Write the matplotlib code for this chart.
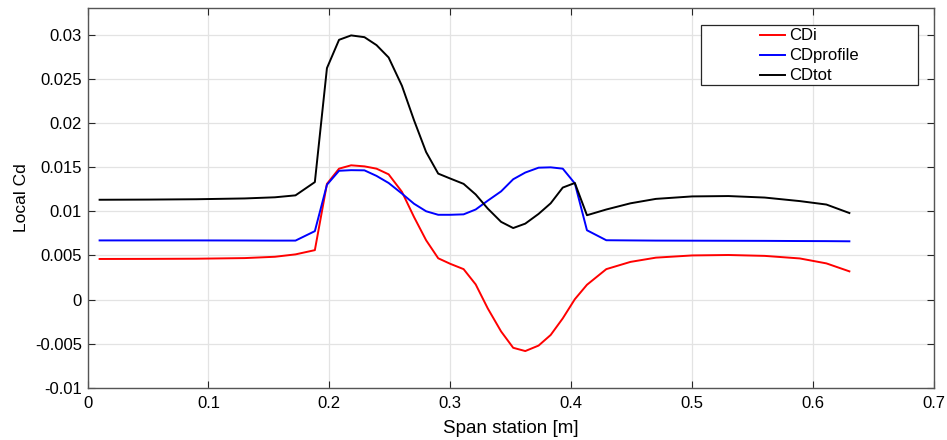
import numpy as np
import matplotlib
matplotlib.use('Agg')
import matplotlib.pyplot as plt
from matplotlib.patches import Rectangle

plt.rcParams['font.family'] = ['Liberation Sans', 'DejaVu Sans']

# spanwise stations [m]
span = [0.010, 0.050, 0.090, 0.130, 0.155, 0.172, 0.188, 0.198, 0.208, 0.218,
        0.229, 0.239, 0.249, 0.260, 0.270, 0.280, 0.290, 0.300, 0.311, 0.321,
        0.331, 0.342, 0.352, 0.362, 0.373, 0.383, 0.393, 0.403, 0.413, 0.429,
        0.449, 0.470, 0.500, 0.530, 0.560, 0.589, 0.611, 0.630]

cd_i = [0.00460, 0.00461, 0.00463, 0.00470, 0.00485, 0.00512, 0.00560, 0.01310,
        0.01482, 0.01520, 0.01508, 0.01482, 0.01418, 0.01220, 0.00935, 0.00672,
        0.00468, 0.00405, 0.00345, 0.00172, -0.00100, -0.00360, -0.00545,
        -0.00582, -0.00520, -0.00400, -0.00212, 0.00005, 0.00168, 0.00345,
        0.00427, 0.00475, 0.00500, 0.00505, 0.00495, 0.00466, 0.00410, 0.00320]

cd_profile = [0.00670, 0.00670, 0.00670, 0.00669, 0.00668, 0.00668, 0.00775,
              0.01300, 0.01458, 0.01465, 0.01463, 0.01400, 0.01320, 0.01200,
              0.01085, 0.01000, 0.00960, 0.00960, 0.00965, 0.01020, 0.01120,
              0.01225, 0.01362, 0.01438, 0.01493, 0.01497, 0.01482, 0.01315,
              0.00785, 0.00672, 0.00670, 0.00668, 0.00667, 0.00666, 0.00665,
              0.00663, 0.00662, 0.00660]

cd_tot = [0.01130, 0.01132, 0.01136, 0.01145, 0.01158, 0.01180, 0.01330, 0.02620,
          0.02940, 0.02990, 0.02970, 0.02880, 0.02740, 0.02420, 0.02030, 0.01670,
          0.01426, 0.01370, 0.01310, 0.01190, 0.01030, 0.00880, 0.00810, 0.00860,
          0.00970, 0.01090, 0.01268, 0.01320, 0.00955, 0.01020, 0.01090, 0.01140,
          0.01168, 0.01172, 0.01155, 0.01115, 0.01076, 0.00980]

xticks = [0, 0.1, 0.2, 0.3, 0.4, 0.5, 0.6, 0.7]
xtick_labels = ['0', '0.1', '0.2', '0.3', '0.4', '0.5', '0.6', '0.7']
yticks = [-0.01, -0.005, 0, 0.005, 0.01, 0.015, 0.02, 0.025, 0.03]
ytick_labels = ['-0.01', '-0.005', '0', '0.005', '0.01', '0.015', '0.02', '0.025', '0.03']

fig = plt.figure(figsize=(9.47, 4.4), dpi=100)
ax = fig.add_axes([0.0924, 0.1182, 0.8939, 0.8636])

ax.plot(span, cd_i, color='#ff0000', lw=1.4, label='CDi')
ax.plot(span, cd_profile, color='#0000ff', lw=1.4, label='CDprofile')
ax.plot(span, cd_tot, color='black', lw=1.4, label='CDtot')

ax.set_xlim(0, 0.7)
ax.set_ylim(-0.01, 0.033)
ax.set_xticks(xticks)
ax.set_xticklabels(xtick_labels)
ax.set_yticks(yticks)
ax.set_yticklabels(ytick_labels)
ax.tick_params(direction='in', length=5, width=0.8, color='#262626',
               labelsize=12, top=True, right=True)
ax.tick_params(axis='x', pad=6)
ax.tick_params(axis='y', pad=4)
ax.grid(True, color='#e3e3e3', lw=0.9)
ax.set_axisbelow(True)
for s in ax.spines.values():
    s.set_color('#555555')
    s.set_linewidth(1.0)

ax.set_xlabel('Span station [m]', fontsize=13.5, labelpad=6)
ax.set_ylabel('Local Cd', fontsize=12.5, labelpad=4)

# MATLAB-like legend box, entries centred
ax.add_patch(Rectangle((0.725, 0.797), 0.256, 0.158, transform=ax.transAxes,
                       facecolor='white', edgecolor='#262626', lw=0.9, zorder=5))
leg = ax.legend(loc='center', bbox_to_anchor=(0.853, 0.874), frameon=False,
                fontsize=12, handlelength=1.5, handletextpad=0.25,
                labelspacing=0.3, borderpad=0)
leg.set_zorder(6)

fig.savefig('out.png', dpi=100)
